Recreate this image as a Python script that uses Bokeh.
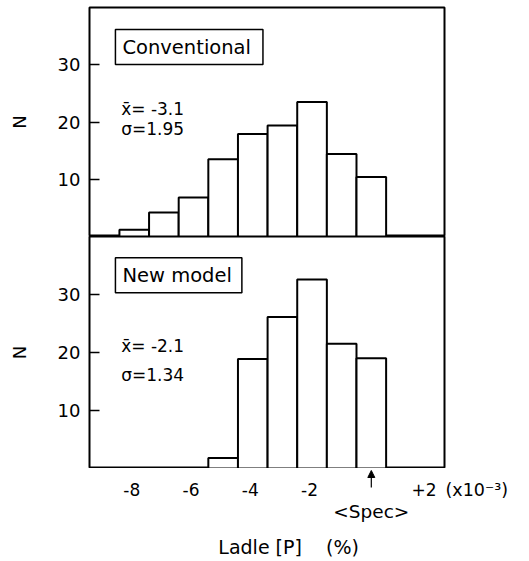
from bokeh.plotting import figure
from bokeh.layouts import column
from bokeh.models import Label, Arrow, NormalHead, FixedTicker, Range1d
from bokeh.core.properties import value
from bokeh.embed import file_html
from bokeh.resources import INLINE

# ---- data ----
bin_centers = [-8, -7, -6, -5, -4, -3, -2, -1, 0]          # Ladle [P] (x10^-3 %)
conventional = [1.2, 4.2, 6.8, 13.5, 17.9, 19.4, 23.5, 14.4, 10.4]
new_model = [0, 0, 0, 1.8, 18.9, 26.1, 32.6, 21.5, 19.0]
bin_width = 1.0
x_ticks = [-8, -6, -4, -2, 2]
x_tick_labels = ["-8", "-6", "-4", "-2", "+2"]
y_ticks = [10, 20, 30]
spec_value = 0
conv_stats = ["x\u0304= -3.1", "\u03c3=1.95"]
new_stats = ["x\u0304= -2.1", "\u03c3=1.34"]

FONT = "DejaVu Sans"
INK = "black"
W = 529
LEFT, RIGHT = 89, 85
X0, X1 = -9.51, 2.47
XR = Range1d(X0, X1)
PX_PER_UNIT = (W - LEFT - RIGHT) / (X1 - X0)


def no_align(p):
    try:
        p.frame_align = False
    except Exception:
        pass


def make_panel(values, title, stats, height, top, bottom):
    p = figure(width=W, height=height, x_range=XR, y_range=Range1d(0, 40),
               output_backend="svg", toolbar_location=None,
               x_axis_location=None,
               min_border_left=LEFT, min_border_right=RIGHT,
               min_border_top=top, min_border_bottom=bottom)
    no_align(p)
    p.grid.visible = False
    p.outline_line_color = INK
    p.outline_line_width = 2
    p.background_fill_color = "white"
    p.border_fill_color = "white"

    p.vbar(x=bin_centers, top=values, width=bin_width, bottom=0,
           fill_color="white", line_color=INK, line_width=2)

    ya = p.yaxis[0]
    ya.ticker = FixedTicker(ticks=y_ticks)
    ya.axis_line_color = None
    ya.major_tick_in = 10
    ya.major_tick_out = 0
    ya.major_tick_line_width = 1.5
    ya.major_tick_line_color = INK
    ya.minor_tick_line_color = None
    ya.major_label_text_font = FONT
    ya.major_label_text_font_size = "18px"
    ya.major_label_text_color = INK
    ya.major_label_standoff = 9
    ya.axis_label = "N"
    ya.axis_label_text_font = FONT
    ya.axis_label_text_font_style = "normal"
    ya.axis_label_text_font_size = "18px"
    ya.axis_label_text_color = INK
    ya.axis_label_standoff = 25

    p.add_layout(Label(x=-8.635, y=stats[4], text=title, text_font=FONT,
                       text_font_size="19.5px", text_align="left",
                       text_baseline="middle", text_color=INK,
                       padding=dict(left=7, right=stats[5], top=6, bottom=6),
                       border_line_color=INK, border_line_width=1.5,
                       background_fill_color="white"))
    p.add_layout(Label(x=-8.44, y=stats[2], text=stats[0], text_font=FONT,
                       text_font_size="17px", text_baseline="middle", text_color=INK))
    p.add_layout(Label(x=-8.44, y=stats[3], text=stats[1], text_font=FONT,
                       text_font_size="17px", text_baseline="middle", text_color=INK))
    return p


top = make_panel(conventional, "Conventional", conv_stats + [22.3, 18.7, 33.1, 12], 236, 7, 0)
bot = make_panel(new_model, "New model", new_stats + [21.2, 16.2, 33.3, 10], 232, 0, 0)

# strip under the lower panel: x tick labels, spec arrow, axis title
strip_h = 561 - 236 - 232
strip = figure(width=W, height=strip_h,
               x_range=Range1d(X0, X0 + (W - LEFT) / PX_PER_UNIT),
               y_range=Range1d(-strip_h, 0),
               output_backend="svg", toolbar_location=None,
               x_axis_location=None, y_axis_location=None,
               min_border_left=LEFT, min_border_right=0,
               min_border_top=0, min_border_bottom=0)
no_align(strip)
strip.grid.visible = False
strip.outline_line_color = None
strip.background_fill_color = "white"
strip.border_fill_color = "white"

strip.text(x=x_ticks, y=[-21] * len(x_ticks), text=x_tick_labels,
           text_font=value(FONT), text_font_size="17px", text_color=INK,
           text_align="right", text_baseline="middle", x_offset=6)
strip.text(x=[X1 + 0.035], y=[-21], text=["(x10\u207b\u00b3)"],
           text_font=value(FONT), text_font_size="17.5px", text_color=INK,
           text_align="left", text_baseline="middle")
strip.add_layout(Arrow(end=NormalHead(size=7, fill_color=INK, line_color=INK),
                       x_start=spec_value, y_start=-19, x_end=spec_value, y_end=-2,
                       line_width=1.2, line_color=INK))
strip.text(x=[spec_value], y=[-43], text=["<Spec>"],
           text_font=value(FONT), text_font_size="18.5px", text_color=INK,
           text_align="center", text_baseline="middle")
strip.text(x=[-2.79], y=[-78], text=["Ladle [P]\u00a0\u00a0\u00a0\u00a0(%)"],
           text_font=value(FONT), text_font_size="19px", text_color=INK,
           text_align="center", text_baseline="middle")

layout = column(top, bot, strip)
open("out.html", "w").write(file_html(layout, INLINE))
